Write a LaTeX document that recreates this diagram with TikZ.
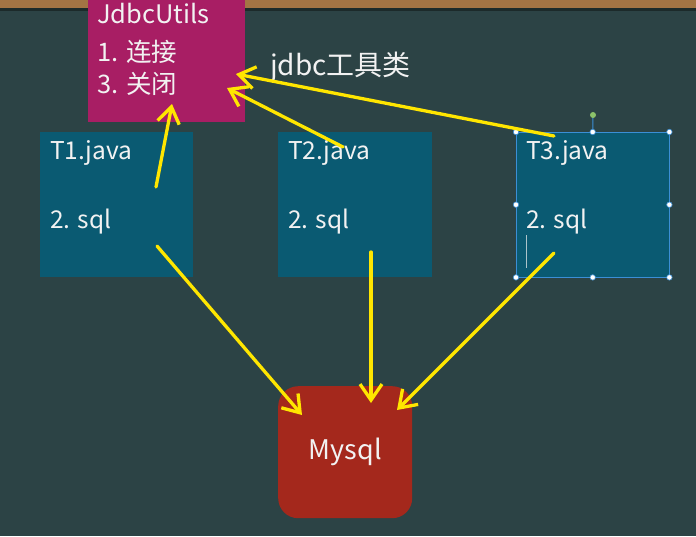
\documentclass[tikz,border=0pt]{standalone}
\usepackage{fontspec}
\setmainfont{Noto Sans CJK SC}
\usetikzlibrary{arrows.meta}
\definecolor{bgc}{HTML}{2C4345}
\definecolor{woodc}{HTML}{A37444}
\definecolor{shadc}{HTML}{1C2A2A}
\definecolor{tealc}{HTML}{0A5A72}
\definecolor{magc}{HTML}{A81E64}
\definecolor{redc}{HTML}{A4281C}
\definecolor{yelc}{HTML}{FFE600}
\definecolor{txtc}{HTML}{F2F2F2}
\definecolor{selc}{HTML}{3B8FD6}
\definecolor{rotc}{HTML}{8CC26A}
\tikzset{
  boxshape/.style={draw=none, minimum width=#1, anchor=north west, inner sep=0pt},
  lbl/.style={text=txtc, anchor=base west, inner sep=0pt, font=\fontsize{24.5}{28}\selectfont},
  biglbl/.style={text=txtc, anchor=base west, inner sep=0pt, font=\fontsize{25.5}{29}\selectfont},
  conn/.style={draw=yelc, line width=3.3pt, line cap=round,
    -{Straight Barb[length=16pt,width=22pt,line width=3.3pt]}},
  handle/.style={circle, fill=white, draw=selc, line width=0.6pt, minimum size=5.5pt, inner sep=0pt},
}
\begin{document}
\begin{tikzpicture}[x=1pt,y=-1pt]
\useasboundingbox (0,0) rectangle (696,536);
% background
\fill[bgc] (0,0) rectangle (696,536);
\fill[woodc] (0,0) rectangle (696,8);
\fill[shadc] (0,8) rectangle (696,10.5);
% boxes
\node[boxshape=157pt, fill=magc, minimum height=122pt] (jdbc) at (88,0) {};
\node[boxshape=153pt, fill=tealc, minimum height=145pt] (t1) at (40,132) {};
\node[boxshape=154pt, fill=tealc, minimum height=145pt] (t2) at (278,132) {};
\node[boxshape=153pt, fill=tealc, minimum height=145pt] (t3) at (516,132) {};
\node[boxshape=134pt, fill=redc, minimum height=132pt, rounded corners=20pt] (mysql) at (278,386) {};
% texts
\node[biglbl] (j1) at (97,23) {JdbcUtils};
\node[biglbl] (j2) at (97,61) {1. 连接};
\node[biglbl] (j3) at (97,93) {3. 关闭};
\node[text=txtc, anchor=base west, inner sep=0pt, font=\fontsize{28}{32}\selectfont] (tool) at (270,75) {jdbc工具类};
\node[lbl] (t1a) at (50,159) {T1.java};
\node[lbl] (t1b) at (50,228) {2. sql};
\node[lbl] (t2a) at (288,159) {T2.java};
\node[lbl] (t2b) at (288,228) {2. sql};
\node[lbl] (t3a) at (526,159) {T3.java};
\node[lbl] (t3b) at (526,228) {2. sql};
\node[text=txtc, inner sep=0pt, font=\fontsize{27}{30}\selectfont] (mtxt) at (mysql.center) {Mysql};
% selection decoration on T3
\draw[selc, line width=0.8pt] (t3.north west) rectangle (t3.south east);
\coordinate (rot) at (593,115);
\draw[selc, line width=1pt] (rot) -- (t3.north);
\node[circle, fill=rotc, minimum size=6pt, inner sep=0pt] (roth) at (rot) {};
\foreach \a in {north west,north,north east,west,east,south west,south,south east}
  \node[handle] at (t3.\a) {};
\coordinate (cur1) at (526,235);
\coordinate (cur2) at (526,268);
\draw[txtc!70!tealc, line width=1pt] (cur1) -- (cur2);
% connector endpoints
\coordinate (s1) at (156,187); \coordinate (e1) at (172,104);
\coordinate (s2) at (343,147); \coordinate (e2) at (227,88);
\coordinate (s3) at (554,136); \coordinate (e3) at (236,74);
\coordinate (s4) at (157,246); \coordinate (e4) at (302,415);
\coordinate (s5) at (371,252); \coordinate (e5) at (371,403);
\coordinate (s6) at (554,253); \coordinate (e6) at (397,410);
\draw[conn] (s1) -- (e1);
\draw[conn] (s2) -- (e2);
\draw[conn] (s3) -- (e3);
\draw[conn] (s4) -- (e4);
\draw[conn] (s5) -- (e5);
\draw[conn] (s6) -- (e6);
\end{tikzpicture}
\end{document}
